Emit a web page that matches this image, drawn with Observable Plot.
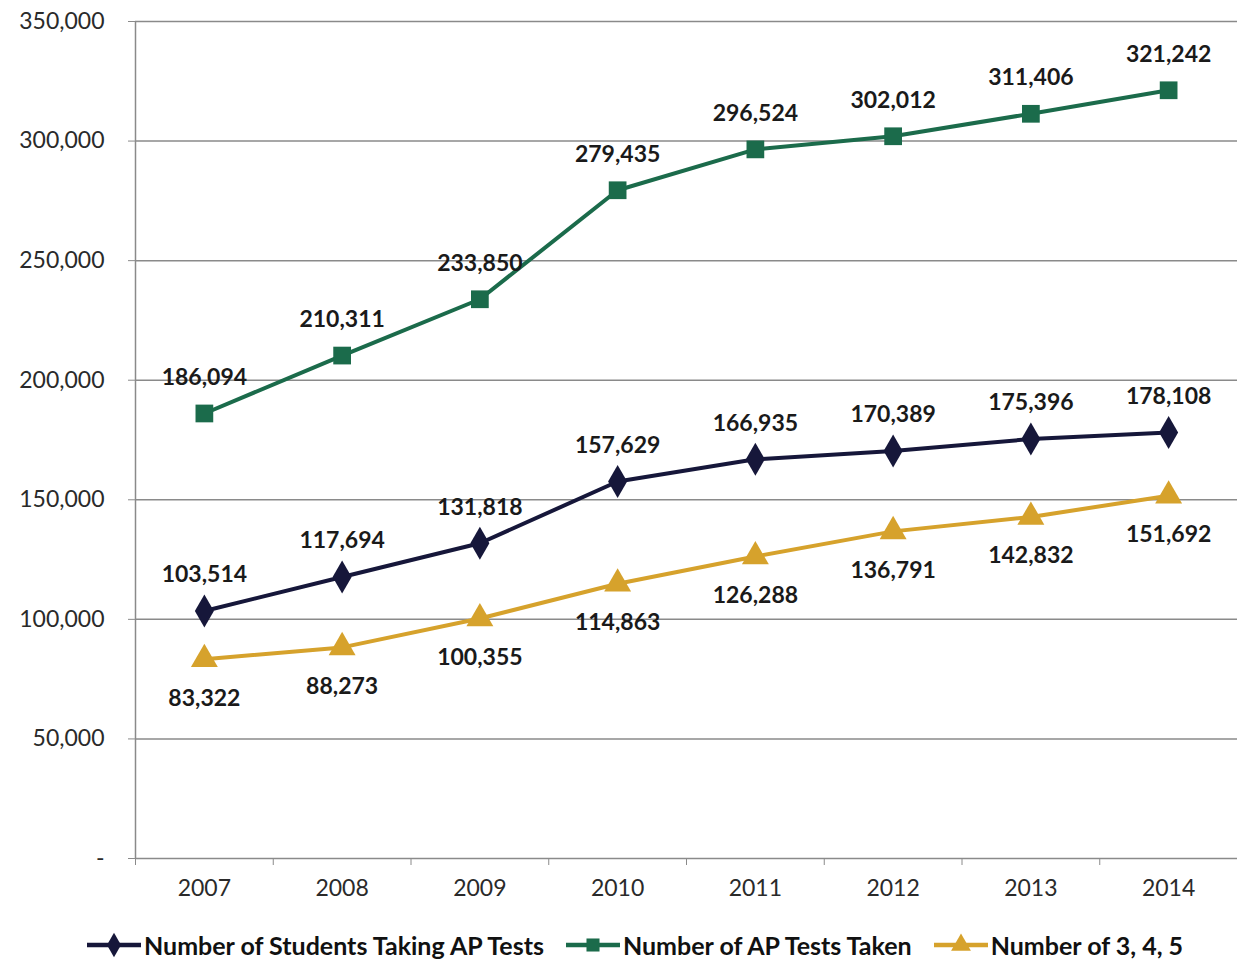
<!DOCTYPE html>
<html>
<head>
<meta charset="utf-8">
<script src="https://cdn.jsdelivr.net/npm/d3@7"></script>
<script src="https://cdn.jsdelivr.net/npm/@observablehq/plot@0.6"></script>
<style>
  html, body { margin: 0; padding: 0; background: #fff; }
  body { width: 1237px; font-family: Lato, "Open Sans", sans-serif; }
  #legend { display: flex; justify-content: flex-start; align-items: center; gap: 21px; margin-top: 15px; padding-left: 86px; font-weight: bold; font-size: 25px; color: #111; }
  #legend .item { display: flex; align-items: center; }
  #legend svg { display: block; margin-right: 2px; }
</style>
</head>
<body>
<div id="chart"></div>
<div id="legend"></div>
<script>
const years = [2007, 2008, 2009, 2010, 2011, 2012, 2013, 2014];
const students = [103514, 117694, 131818, 157629, 166935, 170389, 175396, 178108];
const tests = [186094, 210311, 233850, 279435, 296524, 302012, 311406, 321242];
const scores345 = [83322, 88273, 100355, 114863, 126288, 136791, 142832, 151692];
const seriesNames = ["Number of Students Taking AP Tests", "Number of AP Tests Taken", "Number of 3, 4, 5"];
const seriesColors = ["#16173a", "#1b6b4b", "#d6a22c"];
const seriesSymbols = ["diamond", "square", "triangle"];
const yTicks = [0, 50000, 100000, 150000, 200000, 250000, 300000, 350000];

const seriesValues = [students, tests, scores345];
const rows = [];
seriesValues.forEach((vals, s) => vals.forEach((v, i) => rows.push({series: seriesNames[s], year: years[i], value: v, s})));
const boundaries = years.map(y => y - 0.5).concat([years[years.length - 1] + 0.5]);
const fmt = d3.format(",");

const chart = Plot.plot({
  width: 1237,
  height: 915,
  marginLeft: 135,
  marginRight: 0,
  marginTop: 21,
  marginBottom: 57,
  style: {fontFamily: "Lato, 'Open Sans', sans-serif", fontSize: "23px", color: "#333", background: "#fff"},
  x: {type: "linear", domain: [years[0] - 0.5, years[years.length - 1] + 0.5]},
  y: {domain: [0, 350000]},
  color: {domain: seriesNames, range: seriesColors},
  symbol: {domain: seriesNames, range: seriesSymbols},
  marks: [
    Plot.gridY(yTicks, {stroke: "#8a8a8a", strokeOpacity: 1, strokeWidth: 1.5}),
    Plot.axisY({ticks: yTicks, tickFormat: d => d === 0 ? "-" : fmt(d), tickSize: 7, tickPadding: 24, stroke: "#8a8a8a", fill: "#2a2a2a", label: null}),
    Plot.ruleX([years[0] - 0.5], {stroke: "#8a8a8a", strokeWidth: 1.5}),
    Plot.axisX({ticks: boundaries, tickFormat: () => "", tickSize: 7, stroke: "#8a8a8a", label: null}),
    Plot.axisX({ticks: years, tickFormat: d => String(d), tickSize: 0, tickPadding: 21, fill: "#2a2a2a", label: null}),
    Plot.line(rows, {x: "year", y: "value", z: "series", stroke: "series", strokeWidth: 4}),
    Plot.dot(rows, {x: "year", y: "value", fill: "series", symbol: "series", r: 10, stroke: null}),
    Plot.text(rows.filter(d => d.s !== 2), {x: "year", y: "value", text: d => fmt(d.value), dy: -36, fontWeight: "bold", fontSize: 23, fill: "#1a1a1a"}),
    Plot.text(rows.filter(d => d.s === 2), {x: "year", y: "value", text: d => fmt(d.value), dy: 39, fontWeight: "bold", fontSize: 23, fill: "#1a1a1a"})
  ]
});
document.getElementById("chart").appendChild(chart);

// Legend
const legend = document.getElementById("legend");
const symMap = {diamond: d3.symbolDiamond, square: d3.symbolSquare, triangle: d3.symbolTriangle};
[0, 1, 2].forEach(i => {
  const item = document.createElement("div");
  item.className = "item";
  const sw = d3.create("svg").attr("width", 56).attr("height", 26);
  sw.append("line").attr("x1", 1).attr("x2", 55).attr("y1", 13).attr("y2", 13).attr("stroke", seriesColors[i]).attr("stroke-width", 4.5);
  sw.append("path").attr("transform", "translate(28,13)").attr("d", d3.symbol(symMap[seriesSymbols[i]], 170)()).attr("fill", seriesColors[i]);
  item.appendChild(sw.node());
  const t = document.createElement("span");
  t.textContent = seriesNames[i];
  item.appendChild(t);
  legend.appendChild(item);
});
</script>
</body>
</html>
